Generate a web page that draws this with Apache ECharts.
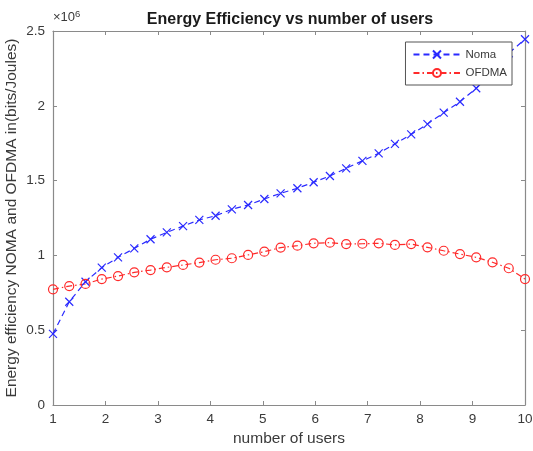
<!DOCTYPE html>
<html>
<head>
<meta charset="utf-8">
<script src="https://cdn.jsdelivr.net/npm/echarts@6/dist/echarts.min.js"></script>
<style>html,body{margin:0;padding:0;background:#fff;}#c{width:533px;height:451px;}</style>
</head>
<body>
<div id="c"></div>
<script>
var users = [1, 1.31, 1.62, 1.93, 2.24, 2.55, 2.86, 3.17, 3.48, 3.79, 4.10, 4.41, 4.72, 5.03, 5.34, 5.66, 5.97, 6.28, 6.59, 6.90, 7.21, 7.52, 7.83, 8.14, 8.45, 8.76, 9.07, 9.38, 9.69, 10];
var noma = [0.475e6, 0.69e6, 0.824e6, 0.918e6, 0.987e6, 1.047e6, 1.108e6, 1.154e6, 1.196e6, 1.237e6, 1.265e6, 1.308e6, 1.337e6, 1.377e6, 1.415e6, 1.449e6, 1.489e6, 1.531e6, 1.582e6, 1.632e6, 1.682e6, 1.745e6, 1.809e6, 1.878e6, 1.954e6, 2.027e6, 2.117e6, 2.225e6, 2.351e6, 2.445e6];
var ofdma = [0.773e6, 0.795e6, 0.809e6, 0.842e6, 0.862e6, 0.887e6, 0.902e6, 0.920e6, 0.936e6, 0.952e6, 0.971e6, 0.981e6, 1.003e6, 1.025e6, 1.052e6, 1.065e6, 1.081e6, 1.085e6, 1.076e6, 1.078e6, 1.081e6, 1.070e6, 1.076e6, 1.054e6, 1.031e6, 1.009e6, 0.987e6, 0.954e6, 0.914e6, 0.842e6];
var xTicks = [1, 10, 1];
var yTicks = [0, 2.5e6, 0.5e6];

var font = 'Liberation Sans, Arial, sans-serif';
var axisCol = '#8a8a8a';
var txtCol = '#3a3a3a';
function pairs(xs, ys){ return xs.map(function(x,i){ return [x, ys[i]]; }); }

var chart = echarts.init(document.getElementById('c'));
var tickStyle = {show:true, inside:true, length:4, lineStyle:{color:axisCol, width:1}};
chart.setOption({
  animation:false,
  backgroundColor:'#fff',
  title:{text:'Energy Efficiency vs number of users', left:285, top:7, textAlign:'center',
    textStyle:{fontFamily:font, fontSize:16, fontWeight:'bold', color:'#1a1a1a'}},
  grid:{left:53, right:8, top:31, bottom:46, containLabel:false, outerBoundsMode:'none'},
  legend:{
    orient:'vertical', right:21, top:42, itemWidth:47, itemHeight:10, itemGap:6,
    padding:[6,5,6,7], borderColor:'#555', borderWidth:1, backgroundColor:'#fff',
    textStyle:{fontFamily:font, fontSize:11.5, color:txtCol},
    data:['Noma','OFDMA']
  },
  xAxis:[{
    type:'value', min:xTicks[0], max:xTicks[1], interval:xTicks[2],
    name:'number of users', nameLocation:'middle', nameGap:26, nameMoveOverlap:false,
    nameTextStyle:{fontFamily:font, fontSize:15.5, color:txtCol},
    axisLine:{show:true, lineStyle:{color:axisCol, width:1.2}},
    axisTick:tickStyle, splitLine:{show:false},
    axisLabel:{fontFamily:font, fontSize:13.5, color:txtCol, margin:7}
  },{
    type:'value', position:'top', min:xTicks[0], max:xTicks[1], interval:xTicks[2],
    axisLine:{show:true, onZero:false, lineStyle:{color:axisCol, width:1.2}},
    axisTick:tickStyle, axisLabel:{show:false}, splitLine:{show:false}
  }],
  yAxis:[{
    type:'value', min:yTicks[0], max:yTicks[1], interval:yTicks[2],
    name:'Energy efficiency NOMA and OFDMA in(bits/Joules)', nameLocation:'middle', nameGap:33, nameMoveOverlap:false,
    nameTextStyle:{fontFamily:font, fontSize:15.5, color:txtCol},
    axisLine:{show:true, lineStyle:{color:axisCol, width:1.2}},
    axisTick:tickStyle, splitLine:{show:false},
    axisLabel:{fontFamily:font, fontSize:13.5, color:txtCol, margin:8,
      formatter:function(v){ return String(v/1e6); }}
  },{
    type:'value', position:'right', min:yTicks[0], max:yTicks[1], interval:yTicks[2],
    axisLine:{show:true, onZero:false, lineStyle:{color:axisCol, width:1.2}},
    axisTick:tickStyle, axisLabel:{show:false}, splitLine:{show:false}
  }],
  graphic:[{
    type:'text', left:53, top:9,
    style:{text:'{a|×10}{b|6}', rich:{a:{fontFamily:font, fontSize:13, fill:txtCol}, b:{fontFamily:font, fontSize:9.5, fill:txtCol, verticalAlign:'top', padding:[0,0,7,0]}}}
  }],
  series:[{
    name:'Noma', type:'line', data:pairs(users, noma),
    symbol:'path://M0,0L10,10M10,0L0,10', symbolSize:8,
    showAllSymbol:true,
    lineStyle:{color:'#2a2aff', width:1.2, type:[6,4]},
    itemStyle:{color:'none', borderColor:'#2a2aff', borderWidth:1.2}
  },{
    name:'OFDMA', type:'line', data:pairs(users, ofdma),
    symbol:'circle', symbolSize:9,
    showAllSymbol:true,
    lineStyle:{color:'#ff2a2a', width:1.2, type:[6,3,1.5,3]},
    itemStyle:{color:'rgba(0,0,0,0)', borderColor:'#ff2a2a', borderWidth:1.2}
  }]
});
</script>
</body>
</html>
